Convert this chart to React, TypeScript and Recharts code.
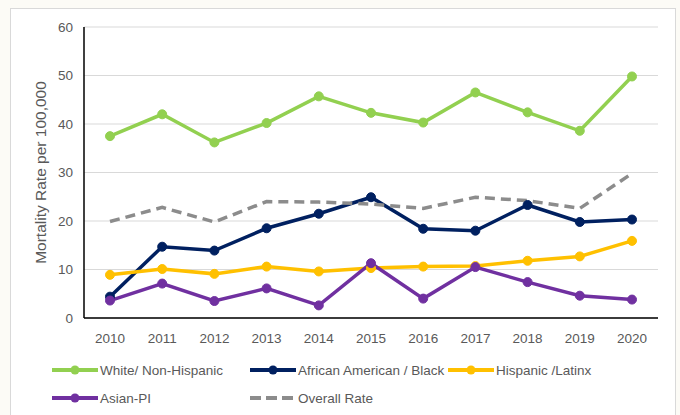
import React from 'react';
import { LineChart, Line, XAxis, YAxis, CartesianGrid, Legend } from 'recharts';

const years = ['2010', '2011', '2012', '2013', '2014', '2015', '2016', '2017', '2018', '2019', '2020'];
const white = [37.5, 42.0, 36.2, 40.2, 45.7, 42.3, 40.3, 46.5, 42.4, 38.6, 49.8];
const black = [4.4, 14.7, 13.9, 18.5, 21.5, 24.9, 18.4, 18.0, 23.3, 19.8, 20.3];
const hispanic = [8.9, 10.1, 9.1, 10.6, 9.6, 10.3, 10.6, 10.7, 11.8, 12.7, 15.9];
const asian = [3.6, 7.1, 3.5, 6.1, 2.6, 11.3, 4.0, 10.5, 7.4, 4.6, 3.8];
const overall = [19.9, 22.8, 19.8, 24.0, 23.9, 23.5, 22.6, 24.9, 24.2, 22.6, 29.8];
const yTicks = [0, 10, 20, 30, 40, 50, 60];

const series = [
  { key: 'white', name: 'White/ Non-Hispanic', color: '#92D050', values: white, dashed: false },
  { key: 'black', name: 'African American / Black', color: '#002060', values: black, dashed: false },
  { key: 'hispanic', name: 'Hispanic /Latinx', color: '#FFC000', values: hispanic, dashed: false },
  { key: 'asian', name: 'Asian-PI', color: '#7030A0', values: asian, dashed: false },
  { key: 'overall', name: 'Overall Rate', color: '#8C8C8C', values: overall, dashed: true },
];

const data = years.map((y, i) => {
  const row: Record<string, any> = { year: y };
  series.forEach((s) => {
    row[s.key] = s.values[i];
  });
  return row;
});

const FONT = '"Liberation Sans", Arial, sans-serif';
const TEXT = '#595959';

const renderLegend = () => (
  <div style={{ position: 'relative', width: 680, height: 60, fontFamily: FONT, fontSize: 13.5, color: TEXT }}>
    {series.map((s, i) => {
      const col = i < 3 ? i : i - 3;
      const row = i < 3 ? 0 : 1;
      return (
        <div
          key={s.key}
          style={{ position: 'absolute', left: 52 + col * 198, top: row * 28, height: 20, display: 'flex', alignItems: 'center', whiteSpace: 'nowrap' }}
        >
          <svg width={46} height={12} style={{ marginRight: 2 }}>
            {s.dashed ? (
              <line x1={0} y1={6} x2={46} y2={6} stroke={s.color} strokeWidth={4} strokeDasharray="11 5" />
            ) : (
              <>
                <line x1={0} y1={6} x2={46} y2={6} stroke={s.color} strokeWidth={4} />
                <circle cx={23} cy={6} r={4.5} fill={s.color} />
              </>
            )}
          </svg>
          <span>{s.name}</span>
        </div>
      );
    })}
  </div>
);

export default function App() {
  return (
    <div style={{ position: 'absolute', left: 0, top: 0, width: 680, height: 415, background: '#FCFBF6', overflow: 'hidden' }}>
      <div style={{ position: 'absolute', left: 10, top: 8, width: 664, height: 420, background: '#FFFFFF', border: '1px solid #D9D9D9' }} />
      <div style={{ position: 'absolute', left: 0, top: 0 }}>
        <LineChart width={680} height={415} data={data} margin={{ top: 27, right: 22, bottom: 0, left: 24 }}>
          <CartesianGrid horizontal={true} vertical={false} stroke="#D9D9D9" strokeWidth={1.2} />
          <XAxis
            dataKey="year"
            height={97}
            padding={{ left: 26, right: 26 }}
            axisLine={{ stroke: '#000000', strokeWidth: 1.5 }}
            tickLine={false}
            tickMargin={9}
            tick={{ fill: TEXT, fontSize: 13.5, fontFamily: FONT }}
            interval={0}
          />
          <YAxis
            width={60}
            domain={[0, 60]}
            ticks={yTicks}
            axisLine={{ stroke: '#000000', strokeWidth: 1.5 }}
            tickLine={false}
            tickMargin={5}
            tick={{ fill: TEXT, fontSize: 13.5, fontFamily: FONT }}
            label={{
              value: 'Mortality Rate per 100,000',
              angle: -90,
              position: 'insideLeft',
              offset: 16,
              style: { textAnchor: 'middle', fill: TEXT, fontSize: 15.5, fontFamily: FONT },
            }}
          />
          {series.map((s) => (
            <Line
              key={s.key}
              type="linear"
              dataKey={s.key}
              name={s.name}
              stroke={s.color}
              strokeWidth={3.5}
              strokeDasharray={s.dashed ? '10 6' : undefined}
              dot={s.dashed ? false : { r: 4.5, fill: s.color, stroke: s.color, strokeWidth: 1 }}
              activeDot={false}
              isAnimationActive={false}
            />
          ))}
          <Legend
            layout="horizontal"
            verticalAlign="middle"
            align="center"
            content={renderLegend}
            wrapperStyle={{ left: 0, top: 360, width: 680, height: 60 }}
          />
        </LineChart>
      </div>
    </div>
  );
}
